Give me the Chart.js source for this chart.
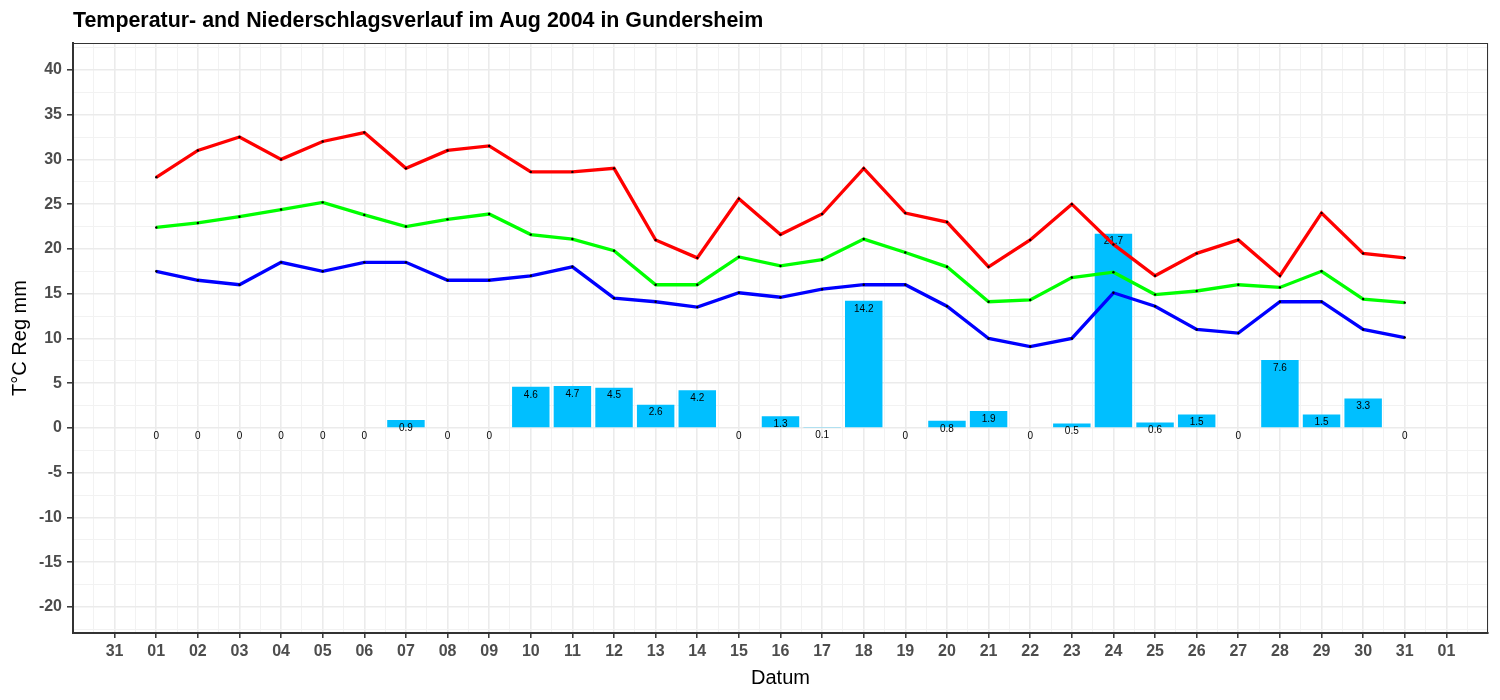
<!DOCTYPE html>
<html>
<head>
<meta charset="utf-8">
<script src="https://cdn.jsdelivr.net/npm/chart.js@4.4.1/dist/chart.umd.min.js"></script>
<style>
    html, body { margin: 0; padding: 0; background: #fff; }
    #wrap { width: 1500px; height: 700px; }
</style>
</head>
<body>
<div id="wrap"><canvas id="chart"></canvas></div>
<script>
// Aug 2004, Gundersheim
const days = ['01','02','03','04','05','06','07','08','09','10','11','12','13','14','15','16',
              '17','18','19','20','21','22','23','24','25','26','27','28','29','30','31'];
const tMax  = [28.0, 31.0, 32.5, 30.0, 32.0, 33.0, 29.0, 31.0, 31.5, 28.6, 28.6, 29.0, 21.0, 19.0, 25.6, 21.6,
               23.9, 29.0, 24.0, 23.0, 18.0, 21.0, 25.0, 20.5, 17.0, 19.5, 21.0, 17.0, 24.0, 19.5, 19.0];
const tMean = [22.4, 22.9, 23.6, 24.4, 25.2, 23.8, 22.5, 23.3, 23.9, 21.6, 21.1, 19.8, 16.0, 16.0, 19.1, 18.1,
               18.8, 21.1, 19.6, 18.0, 14.1, 14.3, 16.8, 17.4, 14.9, 15.3, 16.0, 15.7, 17.5, 14.4, 14.0];
const tMin  = [17.5, 16.5, 16.0, 18.5, 17.5, 18.5, 18.5, 16.5, 16.5, 17.0, 18.0, 14.5, 14.1, 13.5, 15.1, 14.6,
               15.5, 16.0, 16.0, 13.6, 10.0, 9.1, 10.0, 15.1, 13.6, 11.0, 10.6, 14.1, 14.1, 11.0, 10.1];
const rain  = [0, 0, 0, 0, 0, 0, 0.9, 0, 0, 4.6, 4.7, 4.5, 2.6, 4.2, 0, 1.3,
               0.1, 14.2, 0, 0.8, 1.9, 0, 0.5, 21.7, 0.6, 1.5, 0, 7.6, 1.5, 3.3, 0];

// tick labels for x positions -1 (Jul 31) .. 31 (Sep 1)
const xTickLabels = ['31', ...days, '01'];
const yTickValues = [-20, -15, -10, -5, 0, 5, 10, 15, 20, 25, 30, 35, 40];

const xMin = -2, xMax = 32;
const yMin = -22.9, yMax = 43;

const toXY = arr => arr.map((v, i) => ({ x: i, y: v }));

const tickVal = c => (c && c.tick) ? c.tick.value : NaN;
const isMajor = v => Math.abs(v - Math.round(v)) < 1e-6;
const isYMajor = v => Math.abs(v / 5 - Math.round(v / 5)) < 1e-6;
const xLabeled = v => isMajor(v) && v >= -1 && v <= 31;

const tickFont = { family: "'Liberation Sans', Arial", size: 16, weight: 'bold' };

const extras = {
    id: 'extras',
    afterDatasetDraw(chart, args) {
        if (args.meta.type !== 'bar') return;
        const ctx = chart.ctx;
        const x = chart.scales.x, y = chart.scales.y;
        ctx.save();
        ctx.fillStyle = '#000';
        ctx.font = "10px 'Liberation Sans', Arial";
        ctx.textAlign = 'center';
        ctx.textBaseline = 'middle';
        rain.forEach((v, i) => {
            ctx.fillText(String(v), x.getPixelForValue(i), y.getPixelForValue(v) + 8);
        });
        ctx.restore();
    },
    afterDraw(chart) {
        const ctx = chart.ctx;
        const a = chart.chartArea;
        ctx.save();
        ctx.strokeStyle = '#333';
        ctx.lineWidth = 1;
        ctx.strokeRect(a.left + 0.5, a.top + 0.5, a.right - a.left - 1, a.bottom - a.top - 1);
        ctx.fillStyle = '#000';
        ctx.font = "bold 21.4px 'Liberation Sans', Arial";
        ctx.textAlign = 'left';
        ctx.textBaseline = 'middle';
        ctx.fillText('Temperatur- and Niederschlagsverlauf im Aug 2004 in Gundersheim', 73, 21);
        ctx.restore();
    }
};

new Chart(document.getElementById('chart'), {
    data: {
        datasets: [
            {
                // min sample spacing is the half-day grid tick, so 1.8 -> 0.9 day wide bars
                type: 'bar', label: 'Niederschlag', data: toXY(rain), order: 10,
                backgroundColor: '#00BFFF', borderWidth: 0,
                barPercentage: 1.8, categoryPercentage: 1.0
            },
            {
                type: 'line', label: 'Tmax', data: toXY(tMax), order: 1,
                borderColor: '#FF0000', borderWidth: 3.3, tension: 0,
                pointRadius: 1.2, pointBackgroundColor: '#000', pointBorderWidth: 0
            },
            {
                type: 'line', label: 'Tmittel', data: toXY(tMean), order: 2,
                borderColor: '#00FF00', borderWidth: 3.3, tension: 0,
                pointRadius: 1.2, pointBackgroundColor: '#000', pointBorderWidth: 0
            },
            {
                type: 'line', label: 'Tmin', data: toXY(tMin), order: 3,
                borderColor: '#0000FF', borderWidth: 3.3, tension: 0,
                pointRadius: 1.2, pointBackgroundColor: '#000', pointBorderWidth: 0
            }
        ]
    },
    options: {
        responsive: true,
        maintainAspectRatio: false,
        devicePixelRatio: 1,
        animation: false,
        layout: { padding: { left: 0, top: 43, right: 12, bottom: 0 } },
        plugins: {
            legend: { display: false },
            tooltip: { enabled: false }
        },
        scales: {
            x: {
                type: 'linear',
                min: xMin,
                max: xMax,
                offset: false,
                afterBuildTicks: scale => {
                    const t = [];
                    for (let v = xMin; v <= xMax + 1e-9; v += 0.5) t.push({ value: v });
                    scale.ticks = t;
                },
                afterFit: scale => { scale.height = 67; },
                ticks: {
                    autoSkip: false,
                    maxRotation: 0,
                    padding: 4,
                    color: '#4D4D4D',
                    font: tickFont,
                    callback: v => xLabeled(v) ? xTickLabels[Math.round(v) + 1] : ''
                },
                grid: {
                    offset: false,
                    color: c => isMajor(tickVal(c)) ? '#EBEBEB' : '#F2F2F2',
                    lineWidth: c => isMajor(tickVal(c)) ? 1.6 : 1,
                    tickColor: c => xLabeled(tickVal(c)) ? '#333' : 'rgba(0,0,0,0)',
                    tickLength: 5,
                    tickWidth: 1.5
                },
                border: { display: true, color: '#333', width: 2 },
                title: {
                    display: true, text: 'Datum', color: '#000',
                    font: { family: "'Liberation Sans', Arial", size: 20 },
                    padding: { top: 0, bottom: 10 }
                }
            },
            y: {
                type: 'linear',
                min: yMin,
                max: yMax,
                afterBuildTicks: scale => {
                    const t = [];
                    for (let v = -22.5; v <= 42.5 + 1e-9; v += 2.5) t.push({ value: v });
                    scale.ticks = t;
                },
                afterFit: scale => { scale.width = 73; },
                ticks: {
                    autoSkip: false,
                    padding: 5,
                    color: '#4D4D4D',
                    font: tickFont,
                    callback: v => (isYMajor(v) && yTickValues.includes(Math.round(v))) ? String(Math.round(v)) : ''
                },
                grid: {
                    color: c => isYMajor(tickVal(c)) ? '#EBEBEB' : '#F2F2F2',
                    lineWidth: c => isYMajor(tickVal(c)) ? 1.6 : 1,
                    tickColor: c => isYMajor(tickVal(c)) ? '#333' : 'rgba(0,0,0,0)',
                    tickLength: 6,
                    tickWidth: 1.5
                },
                border: { display: true, color: '#333', width: 2 },
                title: {
                    display: true, text: 'T°C Reg mm', color: '#000',
                    font: { family: "'Liberation Sans', Arial", size: 20 },
                    padding: { top: 8, bottom: 0 }
                }
            }
        }
    },
    plugins: [extras]
});
</script>
</body>
</html>
